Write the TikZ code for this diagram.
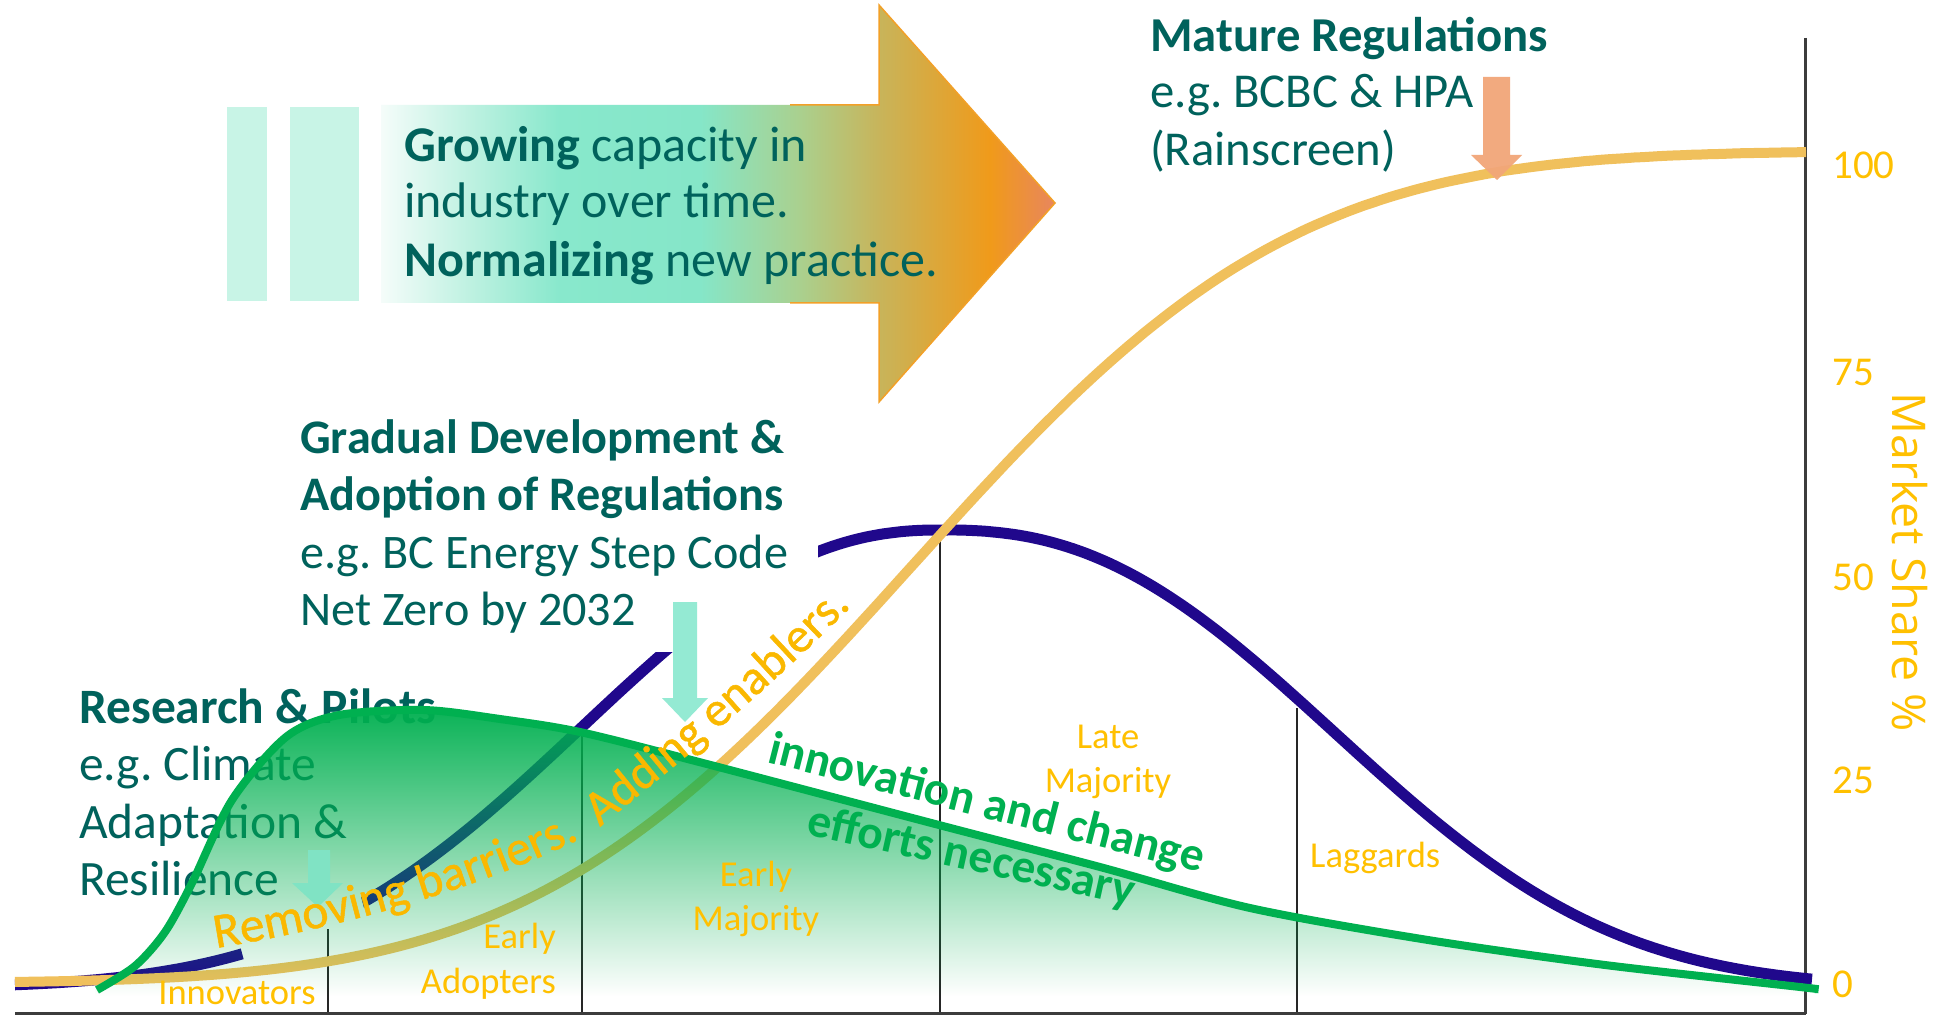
\documentclass[tikz,border=0pt]{standalone}
\usepackage{fontspec}
\setmainfont{Carlito}
\newfontfamily\osfont{Open Sans}
\newfontfamily\wafont{Carlito}[FakeBold=1.0]
\usetikzlibrary{decorations.text,fadings}
\definecolor{tealtxt}{RGB}{0,98,92}
\definecolor{gold}{RGB}{255,192,0}
\definecolor{wacol}{RGB}{250,184,0}
\definecolor{scurve}{RGB}{240,192,92}
\definecolor{bluec}{RGB}{32,8,140}
\definecolor{greenc}{RGB}{0,176,80}
\definecolor{mint}{RGB}{148,234,211}
\definecolor{mintb}{RGB}{128,227,196}
\definecolor{mintbar}{RGB}{200,244,230}
\definecolor{salmon}{RGB}{242,166,121}
\definecolor{axisc}{RGB}{60,60,60}
\definecolor{arrline}{RGB}{242,160,40}
\pgfdeclarehorizontalshading{arrowshade}{100bp}{
 rgb(0bp)=(0.96,0.99,0.98);
 rgb(25bp)=(0.96,0.99,0.98);
 rgb(31.6bp)=(0.745,0.945,0.882);
 rgb(38.3bp)=(0.533,0.91,0.8);
 rgb(48.7bp)=(0.522,0.902,0.784);
 rgb(56.1bp)=(0.667,0.816,0.557);
 rgb(62bp)=(0.784,0.706,0.353);
 rgb(70.2bp)=(0.941,0.604,0.102);
 rgb(75bp)=(0.91,0.525,0.369);
 rgb(100bp)=(0.91,0.525,0.369)}
\tikzfading[name=greenfade, top color=transparent!4, middle color=transparent!68, bottom color=transparent!100]
\frenchspacing
\begin{document}
\begin{tikzpicture}[x=1pt,y=-1pt,
  declare function={Phi(\z)=1/(1+exp(-(1.5976*\z+0.07056*\z*\z*\z)));
    bellL(\x)=988-458*exp(-0.5*((abs(\x-942)+0.01)/342)^2.3);
    bellR(\x)=988-458*exp(-0.5*((abs(\x-942)+0.01)/368)^2.4);},
  headtxt/.style={text=tealtxt, anchor=base west, inner sep=0pt},
  fa/.style={font=\fontsize{50}{58}\selectfont},
  fm/.style={font=\fontsize{48.7}{58}\selectfont},
  fd/.style={font=\fontsize{48.2}{58}\selectfont},
  fr/.style={font=\fontsize{49.5}{58}\selectfont},
  lbl/.style={font=\fontsize{36.5}{44}\selectfont, text=gold, inner sep=0pt},
  ticklbl/.style={font=\fontsize{41}{45}\selectfont, text=gold, inner sep=0pt, anchor=base west},
  grtxt/.style={font=\fontsize{47.5}{57.5}\selectfont\bfseries, text=greenc, inner sep=0pt, anchor=base west},
  divline/.style={draw=black!85, line width=2pt},
  axisline/.style={draw=axisc, line width=3pt},
  blockarrow/.style={draw=none}]
\useasboundingbox (0,0) rectangle (1946,1016);
\fill[white] (0,0) rectangle (1946,1016);

% big arrow and bars
\fill[mintbar] (227,107) rectangle (267,301);
\fill[mintbar] (290,107) rectangle (359,301);
\shade[shading=arrowshade] (381,105) -- (879,105) -- (879,5) -- (1055,203) -- (879,402) -- (879,303) -- (381,303) -- cycle;
\draw[arrline, line width=1.5pt, line join=miter] (790,105) -- (879,105) -- (879,5) -- (1055,203) -- (879,402) -- (879,303) -- (790,303);

% dividers and axes
\draw[divline] (328,929) -- (328,1013);
\draw[divline] (582,728) -- (582,1013);
\draw[divline] (940,530) -- (940,1013);
\draw[divline] (1297,708) -- (1297,1013);
\draw[axisline] (15,1013) -- (1806,1013);
\draw[axisline] (1805,38) -- (1805,1014);

% blue bell curve (partly hidden)
\begin{scope}[even odd rule]
\clip (0,0) rectangle (1946,1016)
  (246,968) -- (371,934) -- (345,837) -- (220,871) -- cycle
  (290,330) rectangle (818,652);
\draw[bluec, line width=11pt, line join=round] plot[domain=15:942, samples=160] (\x, {bellL(\x)}) -- plot[domain=942:1812, samples=160] (\x, {bellR(\x)});
\end{scope}

% yellow S-curve
\draw[scurve, line width=10pt] plot[domain=15:1806, samples=220] (\x, {983-832*Phi((\x-911)/300)});

% teal text blocks
\node[headtxt, fa] (g1) at (404,162) {\textbf{Growing} capacity in};
\node[headtxt, fa] (g2) at (404,218) {industry over time.};
\node[headtxt, fa] (g3) at (404,277) {\textbf{Normalizing} new practice.};
\node[headtxt, fm] (m1) at (1150,52) {\textbf{Mature Regulations}};
\node[headtxt, fm] (m2) at (1150,108) {e.g. BCBC \& HPA};
\node[headtxt, fm] (m3) at (1150,166) {(Rainscreen)};
\node[headtxt, fd] (d1) at (300,453) {\textbf{Gradual Development \&}};
\node[headtxt, fd] (d2) at (300,510) {\textbf{Adoption of Regulations}};
\node[headtxt, fd] (d3) at (300,568) {e.g. BC Energy Step Code};
\node[headtxt, fd] (d4) at (300,625) {Net Zero by 2032};
\node[headtxt, fr] (r1) at (79,723) {\textbf{Research \& Pilots}};
\node[headtxt, fr] (r2) at (79,780) {e.g. Climate};
\node[headtxt, fr] (r3) at (79,838) {Adaptation \&};
\node[headtxt, fr] (r4) at (79,895) {Resilience};

% green area and line
\fill[greenc, path fading=greenfade] plot[smooth] coordinates {(97,990) (135,966) (165,932) (192,883) (232,800) (286,737) (339,715) (424,710) (500,719) (580,732) (703,763) (939,825) (1100,867) (1250,908) (1428,940) (1605,965) (1800,987) (1815,989)} -- (1815,996) -- (97,996) -- cycle;
\draw[greenc, line width=8pt] plot[smooth] coordinates {(97,990) (135,966) (165,932) (192,883) (232,800) (286,737) (339,715) (424,710) (500,719) (580,732) (703,763) (939,825) (1100,867) (1250,908) (1428,940) (1605,965) (1800,987) (1815,989)};

% block arrows
\fill[mint, blockarrow] (673,602) -- (697,602) -- (697,698) -- (708,698) -- (685,722) -- (662,698) -- (673,698) -- cycle;
\fill[mintb, blockarrow] (308,850) -- (330,850) -- (330,883) -- (343,883) -- (318,907) -- (292,883) -- (308,883) -- cycle;
\fill[salmon, opacity=0.95, blockarrow] (1483,77) -- (1510,77) -- (1510,155) -- (1522,155) -- (1497,180) -- (1471,155) -- (1483,155) -- cycle;

% category labels
\node[lbl, anchor=base] (inn) at (237,1004) {Innovators};
\node[lbl, anchor=base east] (ea1) at (556,948) {Early};
\node[lbl, anchor=base east] (ea2) at (556,993) {Adopters};
\node[lbl, anchor=base] (em1) at (756,886) {Early};
\node[lbl, anchor=base] (em2) at (756,930) {Majority};
\node[lbl, anchor=base] (lm1) at (1108,748) {Late};
\node[lbl, anchor=base] (lm2) at (1108,792) {Majority};
\node[lbl, anchor=base west] (lag) at (1310,867) {Laggards};

% axis ticks
\node[ticklbl] (t100) at (1832,179) {100};
\node[ticklbl] (t75) at (1832,385) {75};
\node[ticklbl] (t50) at (1832,590) {50};
\node[ticklbl] (t25) at (1832,793) {25};
\node[ticklbl] (t0) at (1832,997) {0};
\node[rotate=-90, font=\osfont\fontsize{46.5}{50}\selectfont, text=gold, inner sep=0pt] (ms) at (1910,562) {Market Share \%};

% word-art text along the S-curve
\path[decorate, decoration={text along path, text color=wacol,
  text={|\wafont\fontsize{49.5}{58}\selectfont|Removing barriers.}}]
  (216,948) .. controls (330,930) and (490,888) .. (605,826);
\path[decorate, decoration={text along path, text color=wacol,
  text={|\wafont\fontsize{49}{58}\selectfont|Adding enablers.}}]
  (600,827) .. controls (667,772) and (772,690) .. (887,570);

% green text
\node[grtxt, rotate=-14.3] (inno) at (766,762) {innovation and change};
\node[grtxt, rotate=-12.5] (eff) at (805,834) {efforts necessary};
\end{tikzpicture}
\end{document}
